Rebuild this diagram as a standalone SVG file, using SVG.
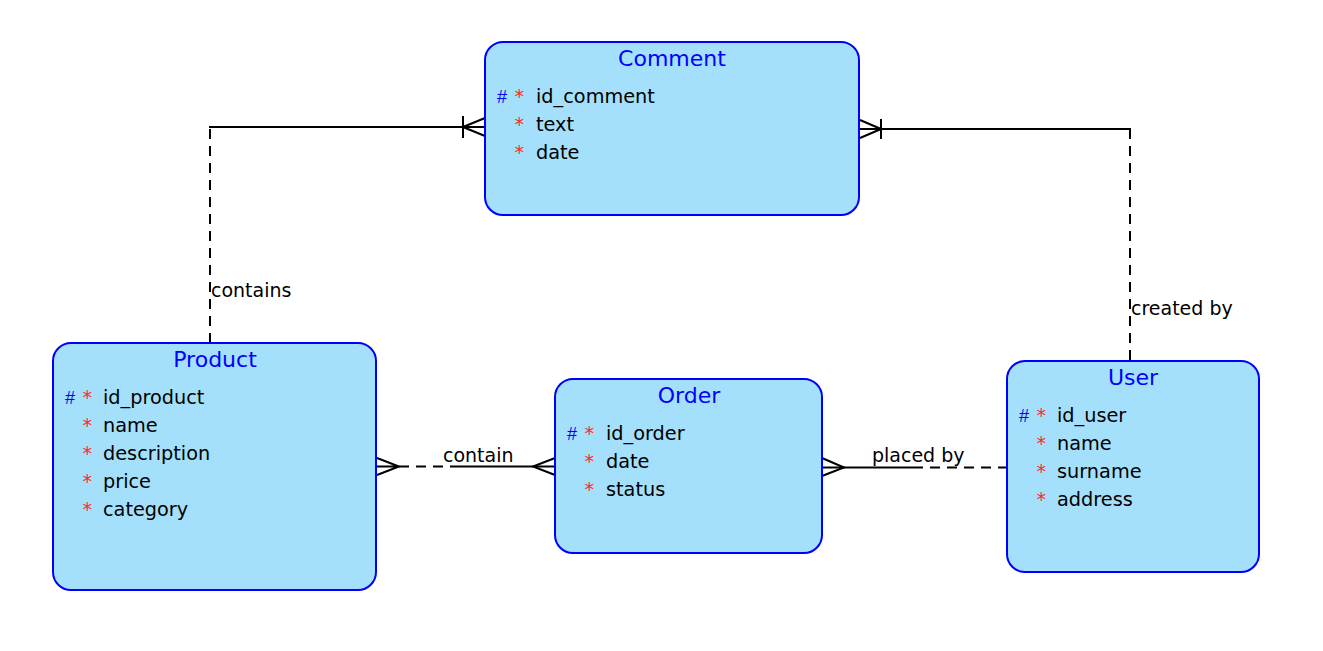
<svg xmlns="http://www.w3.org/2000/svg" width="1323" height="651" viewBox="0 0 1323 651">
<style>
.box{fill:#a4e0fc;stroke:#0000ff;stroke-width:2}
.title{font-family:"DejaVu Sans",sans-serif;font-size:22px;fill:#0000ff;text-anchor:middle}
.attr{font-family:"DejaVu Sans",sans-serif;font-size:19.3px;fill:#000}
.pk{font-family:"Liberation Sans",sans-serif;font-size:18px;fill:#0000ff}
.req{font-family:"DejaVu Sans",sans-serif;font-size:19px;fill:#ff2a2a}
.lbl{font-family:"DejaVu Sans",sans-serif;font-size:19px;fill:#000}
.ln{fill:none;stroke:#000;stroke-width:2}
.dash{fill:none;stroke:#000;stroke-width:2;stroke-dasharray:10 7}
</style>
<rect width="1323" height="651" fill="#fff"/>
<g id="connectors">
  <!-- Product - Comment -->
  <path class="dash" d="M210,343 V127"/>
  <path class="ln" d="M209,127 H485"/>
  <path class="ln" d="M463,116 V138 M463,127 L485,118 M463,127 L485,136"/>
  <text class="lbl" x="211" y="297">contains</text>
  <!-- Comment - User -->
  <path class="ln" d="M859,129 H1131"/>
  <path class="dash" d="M1130,129 V361"/>
  <path class="ln" d="M881,119 V139 M881,129 L860,120 M881,129 L860,138"/>
  <text class="lbl" x="1131" y="315">created by</text>
  <!-- Product - Order -->
  <path class="ln" d="M377,458 L399,466.5 L377,475 M377,466.5 H399"/>
  <path class="dash" d="M399,466.5 H457"/>
  <path class="ln" d="M457,466.5 H555"/>
  <path class="ln" d="M555,458 L533,466.5 L555,475"/>
  <text class="lbl" x="443" y="462">contain</text>
  <!-- Order - User -->
  <path class="ln" d="M822,458 L844,467.5 L822,476"/>
  <path class="ln" d="M822,467.5 H913"/>
  <path class="dash" d="M913,467.5 H1007"/>
  <text class="lbl" x="872" y="462">placed by</text>
</g>
<g id="comment">
  <rect class="box" x="485" y="42" width="374" height="173" rx="18"/>
  <text class="title" x="672" y="66">Comment</text>
  <text class="pk" x="497" y="103">#</text><text class="req" x="514.5" y="103">*</text><text class="attr" x="536" y="103">id_comment</text>
  <text class="req" x="514.5" y="131">*</text><text class="attr" x="536" y="131">text</text>
  <text class="req" x="514.5" y="159">*</text><text class="attr" x="536" y="159">date</text>
</g>
<g id="product">
  <rect class="box" x="53" y="343" width="323" height="247" rx="18"/>
  <text class="title" x="215" y="367">Product</text>
  <text class="pk" x="65" y="404">#</text><text class="req" x="82.5" y="404">*</text><text class="attr" x="103" y="404">id_product</text>
  <text class="req" x="82.5" y="432">*</text><text class="attr" x="103" y="432">name</text>
  <text class="req" x="82.5" y="460">*</text><text class="attr" x="103" y="460">description</text>
  <text class="req" x="82.5" y="488">*</text><text class="attr" x="103" y="488">price</text>
  <text class="req" x="82.5" y="516">*</text><text class="attr" x="103" y="516">category</text>
</g>
<g id="order">
  <rect class="box" x="555" y="379" width="267" height="174" rx="18"/>
  <text class="title" x="689" y="403">Order</text>
  <text class="pk" x="567" y="440">#</text><text class="req" x="584.5" y="440">*</text><text class="attr" x="606" y="440">id_order</text>
  <text class="req" x="584.5" y="468">*</text><text class="attr" x="606" y="468">date</text>
  <text class="req" x="584.5" y="496">*</text><text class="attr" x="606" y="496">status</text>
</g>
<g id="user">
  <rect class="box" x="1007" y="361" width="252" height="211" rx="18"/>
  <text class="title" x="1133" y="385">User</text>
  <text class="pk" x="1019" y="422">#</text><text class="req" x="1036.5" y="422">*</text><text class="attr" x="1057" y="422">id_user</text>
  <text class="req" x="1036.5" y="450">*</text><text class="attr" x="1057" y="450">name</text>
  <text class="req" x="1036.5" y="478">*</text><text class="attr" x="1057" y="478">surname</text>
  <text class="req" x="1036.5" y="506">*</text><text class="attr" x="1057" y="506">address</text>
</g>
</svg>
